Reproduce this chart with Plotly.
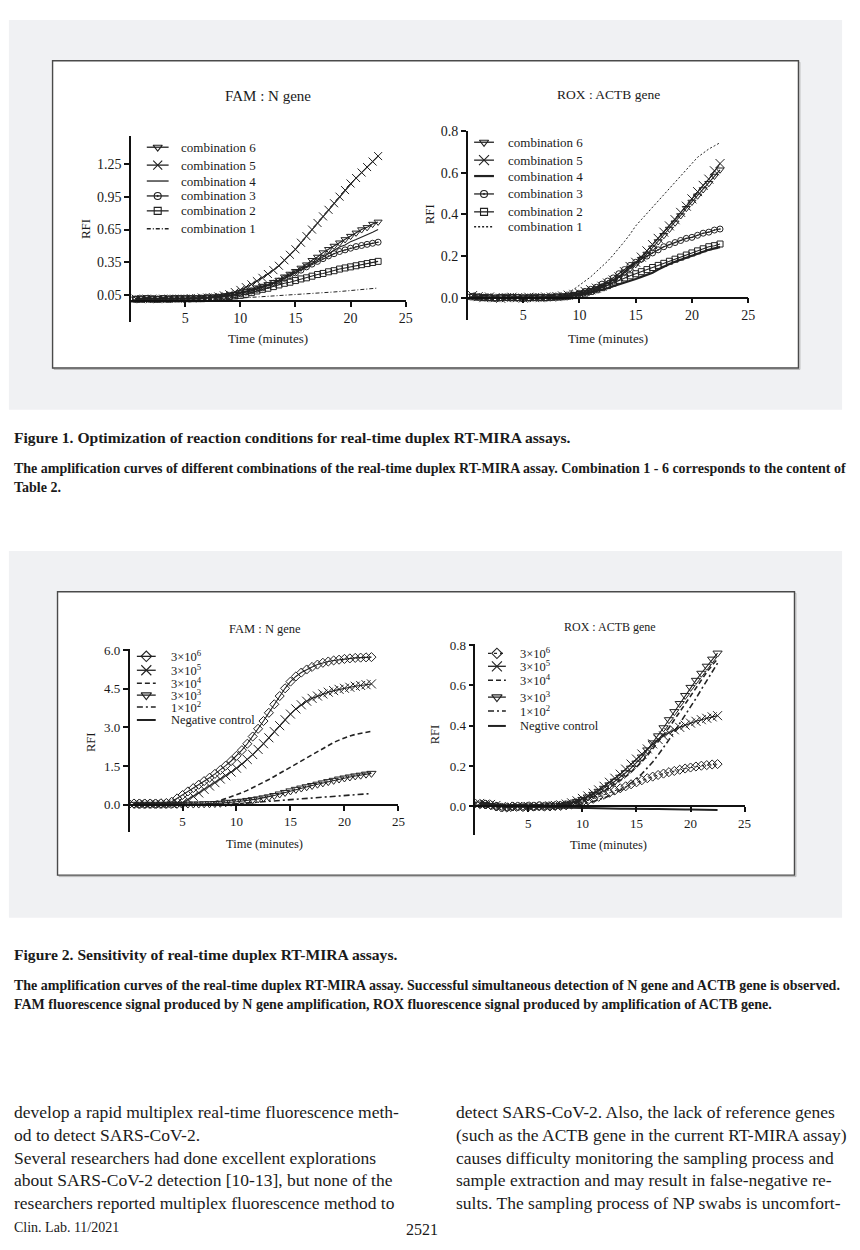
import plotly.graph_objects as go

W, H = 860, 1250
FONT = "Liberation Serif"
INK = "#1a1a1a"

# ---------------- data ----------------
TIME = [0.5, 1.0, 1.5, 2.0, 2.5, 3.0, 3.5, 4.0, 4.5, 5.0, 5.5, 6.0, 6.5, 7.0, 7.5,
        8.0, 8.5, 9.0, 9.5, 10.0, 10.5, 11.0, 11.5, 12.0, 12.5, 13.0, 13.5, 14.0,
        14.5, 15.0, 15.5, 16.0, 16.5, 17.0, 17.5, 18.0, 18.5, 19.0, 19.5, 20.0,
        20.5, 21.0, 21.5, 22.0, 22.5]

# Figure 1, FAM : N gene
FAM_C6 = [0.02, 0.02, 0.015, 0.02, 0.02, 0.015, 0.02, 0.02, 0.02, 0.02, 0.02, 0.02,
          0.025, 0.03, 0.03, 0.035, 0.04, 0.05, 0.06, 0.075, 0.09, 0.10, 0.12, 0.135,
          0.15, 0.17, 0.19, 0.22, 0.245, 0.27, 0.30, 0.33, 0.37, 0.40, 0.44, 0.47,
          0.50, 0.53, 0.56, 0.59, 0.62, 0.65, 0.67, 0.70, 0.72]
FAM_C5 = [0.02, 0.015, 0.02, 0.02, 0.015, 0.02, 0.02, 0.02, 0.02, 0.02, 0.025, 0.025,
          0.03, 0.03, 0.035, 0.04, 0.05, 0.06, 0.08, 0.10, 0.125, 0.15, 0.18, 0.21,
          0.245, 0.28, 0.32, 0.37, 0.42, 0.47, 0.53, 0.59, 0.65, 0.71, 0.77, 0.83,
          0.89, 0.95, 1.01, 1.07, 1.12, 1.17, 1.22, 1.27, 1.32]
FAM_C4 = [0.02, 0.02, 0.02, 0.015, 0.02, 0.02, 0.02, 0.02, 0.015, 0.02, 0.02, 0.02,
          0.025, 0.03, 0.03, 0.035, 0.04, 0.05, 0.055, 0.07, 0.08, 0.095, 0.11, 0.125,
          0.14, 0.16, 0.18, 0.21, 0.235, 0.26, 0.285, 0.31, 0.34, 0.37, 0.40, 0.43,
          0.46, 0.49, 0.51, 0.54, 0.56, 0.58, 0.60, 0.625, 0.65]
FAM_C3 = [0.015, 0.02, 0.02, 0.02, 0.015, 0.02, 0.02, 0.02, 0.02, 0.02, 0.02, 0.02,
          0.025, 0.03, 0.03, 0.035, 0.04, 0.05, 0.055, 0.065, 0.08, 0.09, 0.105, 0.12,
          0.14, 0.16, 0.18, 0.205, 0.23, 0.255, 0.28, 0.31, 0.335, 0.36, 0.385, 0.41,
          0.43, 0.45, 0.465, 0.48, 0.495, 0.505, 0.515, 0.525, 0.535]
FAM_C2 = [0.015, 0.015, 0.02, 0.015, 0.015, 0.02, 0.015, 0.02, 0.02, 0.02, 0.02, 0.02,
          0.02, 0.025, 0.025, 0.03, 0.035, 0.04, 0.045, 0.05, 0.06, 0.075, 0.09, 0.105,
          0.115, 0.13, 0.145, 0.16, 0.17, 0.185, 0.20, 0.21, 0.225, 0.24, 0.25, 0.265,
          0.275, 0.29, 0.30, 0.31, 0.32, 0.33, 0.34, 0.35, 0.36]
FAM_C1 = [0.015, 0.015, 0.015, 0.015, 0.015, 0.015, 0.015, 0.015, 0.015, 0.015, 0.015, 0.015,
          0.015, 0.015, 0.015, 0.018, 0.018, 0.02, 0.022, 0.025, 0.028, 0.03, 0.035, 0.04,
          0.042, 0.045, 0.048, 0.05, 0.053, 0.056, 0.059, 0.062, 0.066, 0.07, 0.074, 0.078,
          0.081, 0.085, 0.089, 0.093, 0.098, 0.102, 0.106, 0.11, 0.117]

# Figure 1, ROX : ACTB gene
ROX_C6 = [0.008, 0.004, 0.002, 0.0, -0.002, 0.0, 0.002, 0.0, -0.002, 0.0, 0.0, 0.002,
          0.0, 0.0, 0.002, 0.004, 0.006, 0.008, 0.012, 0.018, 0.025, 0.033, 0.042, 0.05,
          0.06, 0.075, 0.097, 0.12, 0.14, 0.16, 0.185, 0.21, 0.24, 0.27, 0.30, 0.33,
          0.36, 0.395, 0.43, 0.46, 0.49, 0.52, 0.55, 0.585, 0.615]
ROX_C5 = [0.01, 0.005, 0.0, 0.003, 0.0, -0.003, 0.0, 0.002, 0.0, -0.002, 0.002, 0.0,
          0.0, 0.003, 0.003, 0.005, 0.008, 0.012, 0.016, 0.022, 0.03, 0.038, 0.046, 0.055,
          0.07, 0.085, 0.10, 0.125, 0.15, 0.17, 0.195, 0.225, 0.255, 0.285, 0.315, 0.345,
          0.375, 0.41, 0.44, 0.475, 0.51, 0.54, 0.57, 0.61, 0.645]
ROX_C4 = [0.005, 0.003, 0.0, -0.002, 0.0, 0.0, -0.002, 0.0, 0.0, 0.002, 0.0, 0.0,
          0.0, 0.002, 0.002, 0.003, 0.004, 0.006, 0.009, 0.012, 0.018, 0.024, 0.03, 0.037,
          0.045, 0.055, 0.063, 0.072, 0.082, 0.09, 0.10, 0.11, 0.12, 0.135, 0.15, 0.162,
          0.173, 0.183, 0.193, 0.20, 0.21, 0.22, 0.23, 0.237, 0.243]
ROX_C3 = [0.006, 0.004, 0.002, 0.0, -0.002, 0.0, 0.0, 0.002, 0.0, 0.0, -0.002, 0.0,
          0.002, 0.0, 0.002, 0.004, 0.005, 0.008, 0.012, 0.02, 0.03, 0.04, 0.05, 0.065,
          0.08, 0.095, 0.115, 0.135, 0.155, 0.17, 0.185, 0.20, 0.215, 0.23, 0.245, 0.255,
          0.265, 0.275, 0.285, 0.29, 0.30, 0.31, 0.315, 0.325, 0.33]
ROX_C2 = [0.004, 0.002, 0.0, 0.0, -0.002, 0.0, 0.002, 0.0, 0.0, -0.002, 0.0, 0.002,
          0.0, 0.0, 0.002, 0.003, 0.004, 0.007, 0.01, 0.015, 0.022, 0.03, 0.038, 0.048,
          0.058, 0.07, 0.083, 0.095, 0.105, 0.115, 0.125, 0.135, 0.145, 0.155, 0.165, 0.175,
          0.185, 0.195, 0.205, 0.215, 0.225, 0.235, 0.245, 0.25, 0.258]
ROX_C1 = [0.004, 0.002, 0.0, 0.0, 0.0, -0.002, 0.0, 0.0, 0.0, 0.0, 0.0, 0.0,
          0.0, 0.002, 0.003, 0.005, 0.012, 0.025, 0.04, 0.06, 0.08, 0.10, 0.125, 0.15,
          0.175, 0.205, 0.235, 0.27, 0.305, 0.345, 0.375, 0.405, 0.435, 0.465, 0.495, 0.53,
          0.56, 0.59, 0.62, 0.65, 0.675, 0.695, 0.715, 0.73, 0.745]

# Figure 2, FAM : N gene
FAM_3E6 = [0.05, 0.05, 0.05, 0.05, 0.05, 0.06, 0.07, 0.12, 0.25, 0.38, 0.52, 0.65,
           0.78, 0.92, 1.05, 1.2, 1.35, 1.52, 1.7, 1.9, 2.12, 2.37, 2.65, 2.95,
           3.25, 3.57, 3.9, 4.22, 4.52, 4.78, 4.98, 5.13, 5.25, 5.35, 5.44, 5.51,
           5.56, 5.6, 5.63, 5.66, 5.68, 5.7, 5.71, 5.72, 5.73]
FAM_3E5 = [0.03, 0.03, 0.03, 0.03, 0.03, 0.03, 0.03, 0.04, 0.05, 0.08, 0.2, 0.33,
           0.46, 0.6, 0.73, 0.86, 1.0, 1.13, 1.27, 1.42, 1.58, 1.76, 1.95, 2.15,
           2.37, 2.6, 2.84, 3.07, 3.3, 3.52, 3.72, 3.88, 4.02, 4.13, 4.22, 4.3,
           4.37, 4.43, 4.48, 4.52, 4.56, 4.6, 4.63, 4.66, 4.69]
FAM_3E4 = [0.0, 0.0, 0.0, 0.0, 0.0, 0.0, 0.0, 0.0, 0.0, 0.0, 0.0, 0.0,
           0.0, 0.0, 0.05, 0.1, 0.17, 0.24, 0.31, 0.38, 0.47, 0.56, 0.66, 0.76,
           0.87, 0.98, 1.1, 1.22, 1.35, 1.48, 1.6, 1.73, 1.85, 1.97, 2.09, 2.2,
           2.31, 2.42, 2.51, 2.6, 2.67, 2.73, 2.78, 2.82, 2.85]
FAM_3E3 = [0.02, 0.02, 0.02, 0.02, 0.02, 0.02, 0.02, 0.02, 0.02, 0.02, 0.03, 0.03,
           0.03, 0.04, 0.04, 0.05, 0.06, 0.08, 0.1, 0.12, 0.14, 0.17, 0.2, 0.23,
           0.27, 0.31, 0.36, 0.42, 0.48, 0.54, 0.6, 0.65, 0.7, 0.75, 0.8, 0.85,
           0.9, 0.95, 1.0, 1.04, 1.08, 1.12, 1.15, 1.19, 1.22]
FAM_1E2 = [0.0, 0.0, 0.0, 0.0, 0.0, 0.0, 0.0, 0.0, 0.0, 0.0, 0.0, 0.0,
           0.0, 0.0, 0.0, 0.0, 0.0, 0.0, 0.02, 0.04, 0.055, 0.07, 0.085, 0.1,
           0.115, 0.13, 0.145, 0.16, 0.175, 0.19, 0.21, 0.23, 0.245, 0.26, 0.28, 0.3,
           0.315, 0.33, 0.345, 0.36, 0.375, 0.39, 0.405, 0.42, 0.44]
FAM_NC = [0.01, 0.01, 0.0, 0.0, 0.01, 0.0, 0.0, 0.0, 0.01, 0.0, 0.0, 0.0,
          0.0, 0.0, 0.0, 0.0, 0.0, 0.0, 0.0, 0.0, 0.0, 0.0, 0.0, 0.0,
          0.0, 0.0, 0.0, 0.0, 0.0, 0.0, 0.0, 0.0, 0.0, 0.0, 0.0, 0.0,
          0.0, 0.0, 0.0, 0.0, 0.0, 0.0, 0.0, 0.0, 0.0]

# Figure 2, ROX : ACTB gene
ROX_3E6 = [0.012, 0.01, 0.008, 0.0, -0.005, -0.005, 0.0, 0.0, -0.003, 0.0, 0.0, 0.002,
           0.0, 0.0, 0.003, 0.003, 0.006, 0.01, 0.015, 0.022, 0.03, 0.038, 0.048, 0.058,
           0.068, 0.08, 0.09, 0.1, 0.11, 0.12, 0.13, 0.14, 0.148, 0.156, 0.163, 0.17,
           0.176, 0.182, 0.188, 0.193, 0.198, 0.202, 0.205, 0.208, 0.21]
ROX_3E5 = [0.015, 0.012, 0.01, 0.005, 0.0, -0.005, -0.003, 0.0, 0.0, 0.0, 0.002, 0.0,
           0.003, 0.003, 0.005, 0.008, 0.012, 0.018, 0.028, 0.04, 0.052, 0.066, 0.082, 0.1,
           0.12, 0.14, 0.16, 0.185, 0.21, 0.235, 0.26, 0.285, 0.31, 0.332, 0.35, 0.366,
           0.38, 0.392, 0.403, 0.413, 0.422, 0.43, 0.437, 0.444, 0.45]
ROX_3E4 = [0.01, 0.008, 0.005, 0.0, -0.003, 0.0, 0.0, -0.002, 0.0, 0.0, 0.0, 0.002,
           0.0, 0.002, 0.003, 0.004, 0.006, 0.012, 0.02, 0.028, 0.038, 0.05, 0.062, 0.077,
           0.093, 0.11, 0.128, 0.148, 0.17, 0.195, 0.222, 0.252, 0.285, 0.32, 0.355, 0.39,
           0.43, 0.47, 0.51, 0.55, 0.59, 0.63, 0.665, 0.7, 0.73]
ROX_3E3 = [0.012, 0.01, 0.005, 0.003, 0.0, -0.003, 0.0, 0.0, 0.0, 0.002, 0.0, 0.0,
           0.002, 0.003, 0.003, 0.005, 0.01, 0.016, 0.025, 0.035, 0.047, 0.06, 0.075, 0.09,
           0.107, 0.125, 0.145, 0.167, 0.19, 0.215, 0.245, 0.28, 0.315, 0.35, 0.39, 0.43,
           0.47, 0.51, 0.55, 0.59, 0.625, 0.66, 0.695, 0.73, 0.76]
ROX_1E2 = [0.008, 0.006, 0.004, 0.0, -0.002, 0.0, 0.0, 0.0, -0.002, 0.0, 0.0, 0.0,
           0.002, 0.0, 0.002, 0.002, 0.003, 0.005, 0.008, 0.012, 0.018, 0.025, 0.033, 0.042,
           0.053, 0.065, 0.08, 0.096, 0.115, 0.137, 0.162, 0.19, 0.22, 0.255, 0.29, 0.33,
           0.37, 0.41, 0.45, 0.49, 0.535, 0.58, 0.625, 0.665, 0.71]
ROX_NC = [0.01, 0.012, 0.01, 0.008, 0.005, 0.003, 0.002, 0.0, 0.0, -0.002, -0.002, -0.003,
          -0.003, -0.004, -0.005, -0.005, -0.006, -0.006, -0.007, -0.008, -0.008, -0.009, -0.009, -0.01,
          -0.01, -0.01, -0.011, -0.011, -0.012, -0.012, -0.012, -0.013, -0.013, -0.013, -0.014, -0.014,
          -0.014, -0.015, -0.015, -0.015, -0.016, -0.016, -0.017, -0.017, -0.018]

X_TICKS = [5, 10, 15, 20, 25]
F1L_YTICKS = [0.05, 0.35, 0.65, 0.95, 1.25]
F1R_YTICKS = [0.0, 0.2, 0.4, 0.6, 0.8]
F2L_YTICKS = [0.0, 1.5, 3.0, 4.5, 6.0]
F2R_YTICKS = [0.0, 0.2, 0.4, 0.6, 0.8]

COMBO_NAMES = ["combination 6", "combination 5", "combination 4",
               "combination 3", "combination 2", "combination 1"]
DOSE_NAMES = ["3×10<sup>6</sup>", "3×10<sup>5</sup>", "3×10<sup>4</sup>",
              "3×10<sup>3</sup>", "1×10<sup>2</sup>"]

# ---------------- layout helpers ----------------
def fx(p):
    return p / W


def fy(p):
    return 1 - p / H


LC = "#222222"

# style: (symbol or None, marker size, dash, line width)
F1L_STYLE = [("triangle-down-open", 7, "solid", 1.1), ("x-thin-open", 8, "solid", 1.1),
             (None, 0, "solid", 1.1), ("circle-open-dot", 6, "solid", 1.1),
             ("square-open", 6, "solid", 1.1), (None, 0, "4px,2px,1px,2px", 1.0)]
F1R_STYLE = [("triangle-down-open", 7, "solid", 1.1), ("x-thin-open", 9, "solid", 1.1),
             (None, 0, "solid", 2.2), ("circle-open-dot", 6, "solid", 1.1),
             ("square-open", 6, "solid", 1.1), (None, 0, "2px,2px", 1.0)]
F2L_STYLE = [("diamond-open", 7, "solid", 1.1), ("x-thin-open", 9, "solid", 1.1),
             (None, 0, "5px,3px", 1.6), ("triangle-down-open", 8, "solid", 1.1),
             (None, 0, "6px,3px,2px,3px", 1.6), (None, 0, "solid", 2.0)]
F2R_STYLE = [("diamond-open", 7, "dot", 1.0), ("x-thin-open", 9, "solid", 1.1),
             (None, 0, "5px,3px", 1.6), ("triangle-down-open", 8, "solid", 1.1),
             (None, 0, "6px,3px,2px,3px", 1.6), (None, 0, "solid", 2.0)]

panels = [
    dict(series=[FAM_C6, FAM_C5, FAM_C4, FAM_C3, FAM_C2, FAM_C1], style=F1L_STYLE,
         names=COMBO_NAMES, xl=131.2, xr=409, ytop=130, ybot=317, vtop=1.5006, vbot=-0.1948,
         yt=F1L_YTICKS, ytt=["0.05", "0.35", "0.65", "0.95", "1.25"], tf=14,
         title="FAM : N gene", tx=270, ty=90, tsz=15,
         rfi=(86, 223), time=(270, 333), asz=13,
         leg_x1=148, leg_x2=170, leg_tx=180, leg_rows=[141, 159, 175, 190, 205, 223], lsz=13),
    dict(series=[ROX_C6, ROX_C5, ROX_C4, ROX_C3, ROX_C2, ROX_C1], style=F1R_STYLE,
         names=COMBO_NAMES, xl=470.8, xr=754.3, ytop=125, ybot=315, vtop=0.8, vbot=-0.1086,
         yt=F1R_YTICKS, ytt=["0.0", "0.2", "0.4", "0.6", "0.8"], tf=14,
         title="ROX : ACTB gene", tx=613, ty=88, tsz=13.5,
         rfi=(433, 208), time=(613, 333), asz=13,
         leg_x1=478, leg_x2=498, leg_tx=510, leg_rows=[136, 154, 170, 188, 206, 221], lsz=13),
    dict(series=[FAM_3E6, FAM_3E5, FAM_3E4, FAM_3E3, FAM_1E2, FAM_NC], style=F2L_STYLE,
         names=DOSE_NAMES + ["Negative control"], xl=129.6, xr=401.7, ytop=646, ybot=830,
         vtop=6.03, vbot=-1.068,
         yt=F2L_YTICKS, ytt=["0.0", "1.5", "3.0", "4.5", "6.0"], tf=13,
         title="FAM : N gene", tx=267, ty=625, tsz=12.5,
         rfi=(92, 740), time=(267, 842), asz=12.5,
         leg_x1=138, leg_x2=157, leg_tx=170, leg_rows=[653, 667, 680, 692, 704, 717], lsz=12.5),
    dict(series=[ROX_3E6, ROX_3E5, ROX_3E4, ROX_3E3, ROX_1E2, ROX_NC], style=F2R_STYLE,
         names=DOSE_NAMES + ["Negtive control"], xl=478.2, xr=750.7, ytop=641, ybot=833,
         vtop=0.803, vbot=-0.143,
         yt=F2R_YTICKS, ytt=["0.0", "0.2", "0.4", "0.6", "0.8"], tf=13,
         title="ROX : ACTB gene", tx=615, ty=623, tsz=12,
         rfi=(438, 732), time=(613, 843), asz=12.5,
         leg_x1=492, leg_x2=510, leg_tx=522, leg_rows=[650, 663, 677, 694, 708, 723], lsz=12.5),
]

fig = go.Figure()
annotations = []
shapes = []

# page panels (grey backgrounds and framed boxes)
for (gx0, gy0, gx1, gy1), (bx0, by0, bx1, by1) in [((9, 13, 849, 405), (53, 54, 805, 363)),
                                                    ((9, 547, 849, 916), (58, 588, 801, 873))]:
    shapes.append(dict(type="rect", xref="paper", yref="paper", x0=fx(gx0), x1=fx(gx1),
                       y0=fy(gy1), y1=fy(gy0), fillcolor="#f0f1f3", line=dict(width=0),
                       layer="below"))
    shapes.append(dict(type="rect", xref="paper", yref="paper", x0=fx(bx0 + 1.5), x1=fx(bx1 + 1.5),
                       y0=fy(by1 + 1.5), y1=fy(by0 + 1.5), fillcolor="rgba(0,0,0,0)",
                       line=dict(width=1, color="#b8b8b8"), layer="below"))
    shapes.append(dict(type="rect", xref="paper", yref="paper", x0=fx(bx0), x1=fx(bx1),
                       y0=fy(by1), y1=fy(by0), fillcolor="white",
                       line=dict(width=1.4, color="#4a4a4a"), layer="below"))

layout_axes = {}
for i, p in enumerate(panels):
    n = i + 1
    xa = "x" if n == 1 else f"x{n}"
    ya = "y" if n == 1 else f"y{n}"
    ycross = p["ytop"] + (p["vtop"] - 0) / (p["vtop"] - p["vbot"]) * (p["ybot"] - p["ytop"])
    axfont = dict(family=FONT, size=p["tf"], color=INK)
    layout_axes["xaxis" if n == 1 else f"xaxis{n}"] = dict(
        domain=[fx(p["xl"]), fx(p["xr"])], range=[0, 25], anchor="free", position=fy(ycross),
        showline=True, linecolor="#111111", linewidth=1.6, ticks="outside", ticklen=5,
        tickwidth=1.5, tickcolor="#111111", tickvals=X_TICKS, tickfont=axfont,
        showgrid=False, zeroline=False)
    layout_axes["yaxis" if n == 1 else f"yaxis{n}"] = dict(
        domain=[fy(p["ybot"]), fy(p["ytop"])], range=[p["vbot"], p["vtop"]], anchor="free",
        position=fx(p["xl"]), showline=True, linecolor="#111111", linewidth=1.6,
        ticks="outside", ticklen=5, tickwidth=1.5, tickcolor="#111111",
        tickvals=p["yt"], ticktext=p["ytt"], tickfont=axfont, showgrid=False, zeroline=False)

    for vals, (sym, msz, dash, lw) in zip(p["series"], p["style"]):
        fig.add_trace(go.Scatter(
            x=TIME, y=vals, xaxis=xa, yaxis=ya, showlegend=False,
            mode="lines+markers" if sym else "lines",
            line=dict(color=LC, width=lw, dash=dash),
            marker=dict(symbol=sym or "circle", size=msz, color=LC,
                        line=dict(width=1, color=LC)),
            hoverinfo="skip"))

    # legend (manual, in pixel coordinates of overlay axis x5/y5)
    for row, name, (sym, msz, dash, lw) in zip(p["leg_rows"], p["names"], p["style"]):
        fig.add_trace(go.Scatter(
            x=[p["leg_x1"], p["leg_x2"]], y=[row, row], xaxis="x5", yaxis="y5",
            mode="lines", line=dict(color=LC, width=max(lw, 1.3), dash=dash),
            showlegend=False, hoverinfo="skip"))
        if sym:
            fig.add_trace(go.Scatter(
                x=[(p["leg_x1"] + p["leg_x2"]) / 2], y=[row], xaxis="x5", yaxis="y5",
                mode="markers", marker=dict(symbol=sym, size=msz + 1, color=LC,
                                            line=dict(width=1.1, color=LC)),
                showlegend=False, hoverinfo="skip"))
        annotations.append(dict(x=fx(p["leg_tx"]), y=fy(row), xref="paper", yref="paper",
                                text=name, showarrow=False, xanchor="left", yanchor="middle",
                                font=dict(family=FONT, size=p["lsz"], color=INK)))

    annotations.append(dict(x=fx(p["tx"]), y=fy(p["ty"]), xref="paper", yref="paper",
                            text=p["title"], showarrow=False, xanchor="center", yanchor="middle",
                            font=dict(family=FONT, size=p["tsz"], color=INK)))
    annotations.append(dict(x=fx(p["rfi"][0]), y=fy(p["rfi"][1]), xref="paper", yref="paper",
                            text="RFI", textangle=-90, showarrow=False, xanchor="center",
                            yanchor="middle", font=dict(family=FONT, size=p["asz"], color=INK)))
    annotations.append(dict(x=fx(p["time"][0]), y=fy(p["time"][1]), xref="paper", yref="paper",
                            text="Time (minutes)", showarrow=False, xanchor="center",
                            yanchor="middle", font=dict(family=FONT, size=p["asz"], color=INK)))

layout_axes["xaxis5"] = dict(domain=[0, 1], range=[0, W], visible=False, anchor="y5",
                             fixedrange=True)
layout_axes["yaxis5"] = dict(domain=[0, 1], range=[H, 0], visible=False, anchor="x5",
                             fixedrange=True)

# ---------------- page text ----------------
def page_text(x, y, text, size, bold=False, anchor="left"):
    t = f"<b>{text}</b>" if bold else text
    annotations.append(dict(x=fx(x), y=fy(y), xref="paper", yref="paper", text=t,
                            showarrow=False, xanchor=anchor, yanchor="middle",
                            font=dict(family=FONT, size=size, color=INK)))


page_text(12, 433, "Figure 1. Optimization of reaction conditions for real-time duplex RT-MIRA assays.", 15.6, True)
page_text(12, 464, "The amplification curves of different combinations of the real-time duplex RT-MIRA assay. Combination 1 - 6 corresponds to the content of", 14, True)
page_text(12, 483, "Table 2.", 14, True)

page_text(12, 953, "Figure 2. Sensitivity of real-time duplex RT-MIRA assays.", 15.6, True)
page_text(12, 984, "The amplification curves of the real-time duplex RT-MIRA assay. Successful simultaneous detection of N gene and ACTB gene is observed.", 14, True)
page_text(12, 1003, "FAM fluorescence signal produced by N gene amplification, ROX fluorescence signal produced by amplification of ACTB gene.", 14, True)

LEFT_COL = ["develop a rapid multiplex real-time fluorescence meth-",
            "od to detect SARS-CoV-2.",
            "Several researchers had done excellent explorations",
            "about SARS-CoV-2 detection [10-13], but none of the",
            "researchers reported multiplex fluorescence method to"]
RIGHT_COL = ["detect SARS-CoV-2. Also, the lack of reference genes",
             "(such as the ACTB gene in the current RT-MIRA assay)",
             "causes difficulty monitoring the sampling process and",
             "sample extraction and may result in false-negative re-",
             "sults. The sampling process of NP swabs is uncomfort-"]
BODY_Y = [1111, 1134, 1157, 1180, 1203]
for yy, l, r in zip(BODY_Y, LEFT_COL, RIGHT_COL):
    page_text(12, yy, l, 17.5)
    page_text(458, yy, r, 17.5)

page_text(12, 1227, "Clin. Lab. 11/2021", 14)
page_text(425, 1229, "2521", 16, anchor="center")

fig.update_layout(
    width=W, height=H, margin=dict(l=0, r=0, t=0, b=0),
    paper_bgcolor="white", plot_bgcolor="rgba(0,0,0,0)",
    showlegend=False, annotations=annotations, shapes=shapes, **layout_axes)

POST_JS = ("document.documentElement.style.margin='0';document.body.style.margin='0';"
           "document.body.style.overflow='hidden';"
           "var gd=document.getElementById('{plot_id}');"
           "gd.style.position='absolute';gd.style.top='0px';gd.style.left='0px';")

fig.write_html("out.html", config={"displayModeBar": False}, post_script=POST_JS)
